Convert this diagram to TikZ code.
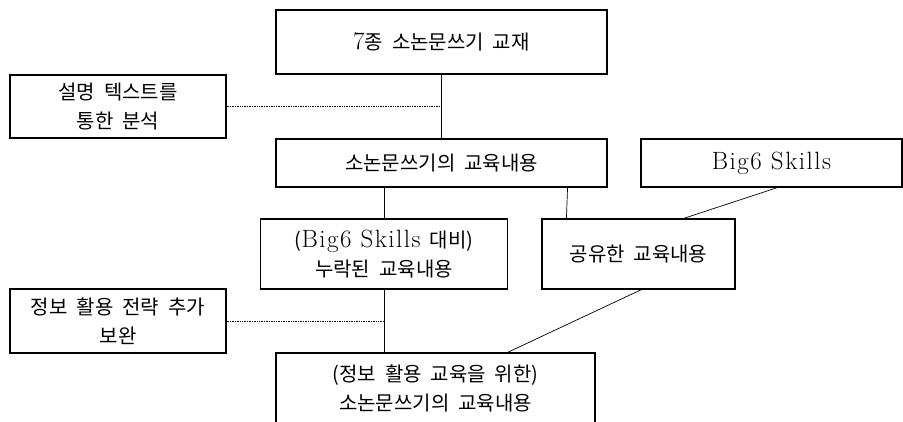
\documentclass[tikz,border=0pt]{standalone}
\usepackage{fontspec}
\newfontfamily\kr[WordSpace=2]{Noto Sans CJK KR}
\newfontfamily\lat[Scale=1.25, LetterSpace=6]{Latin Modern Roman}

\begin{document}
\begin{tikzpicture}[x=1pt, y=-1pt,
    box/.style={draw, line width=1.1pt, align=center, inner sep=0pt, font=\kr\fontsize{20}{29}\selectfont},
    link/.style={line width=0.7pt},
    note/.style={densely dotted, line width=0.7pt}]

    \useasboundingbox (0,0) rectangle (903,421);

    \node (book) [box, minimum width=331pt, minimum height=64pt] at (441.5,42) {{\lat 7}종 소논문쓰기 교재};
    \node (expl) [box, minimum width=216pt, minimum height=63pt] at (118,106.5) {설명 텍스트를\\통한 분석};
    \node (cont) [box, minimum width=331pt, minimum height=48pt] at (441.5,163) {소논문쓰기의 교육내용};
    \node (bigsix) [box, minimum width=261pt, minimum height=48pt] at (771.5,163) {\lat Big6 Skills};
    \node (miss) [box, minimum width=247pt, minimum height=70pt] at (384,254) {({\lat Big6 Skills}\ 대비)\\누락된 교육내용};
    \node (share) [box, minimum width=193pt, minimum height=70pt] at (638.5,254) {공유한 교육내용};
    \node (info) [box, minimum width=216pt, minimum height=64pt] at (118,321) {정보 활용 전략 추가\\보완};
    \node (final) [box, minimum width=319pt, minimum height=70pt] at (435.5,388) {(정보 활용 교육을 위한)\\소논문쓰기의 교육내용};

    \draw [link] (book) -- (cont);
    \draw [note] (expl.east) -- (expl.east -| book.south);
    \draw [link] (miss.north |- cont.south) -- (miss.north);
    \draw [link] ([xshift=-40pt]cont.south east) -- ([xshift=25pt]share.north west);
    \draw [link] ([xshift=6pt]bigsix.south) -- ([xshift=45pt]share.north);
    \draw [link] (miss.south) -- (miss.south |- final.north);
    \draw [note] (info.east) -- (info.east -| miss.south);
    \draw [link] ([xshift=3pt]share.south) -- ([xshift=72pt]final.north);

\end{tikzpicture}
\end{document}
